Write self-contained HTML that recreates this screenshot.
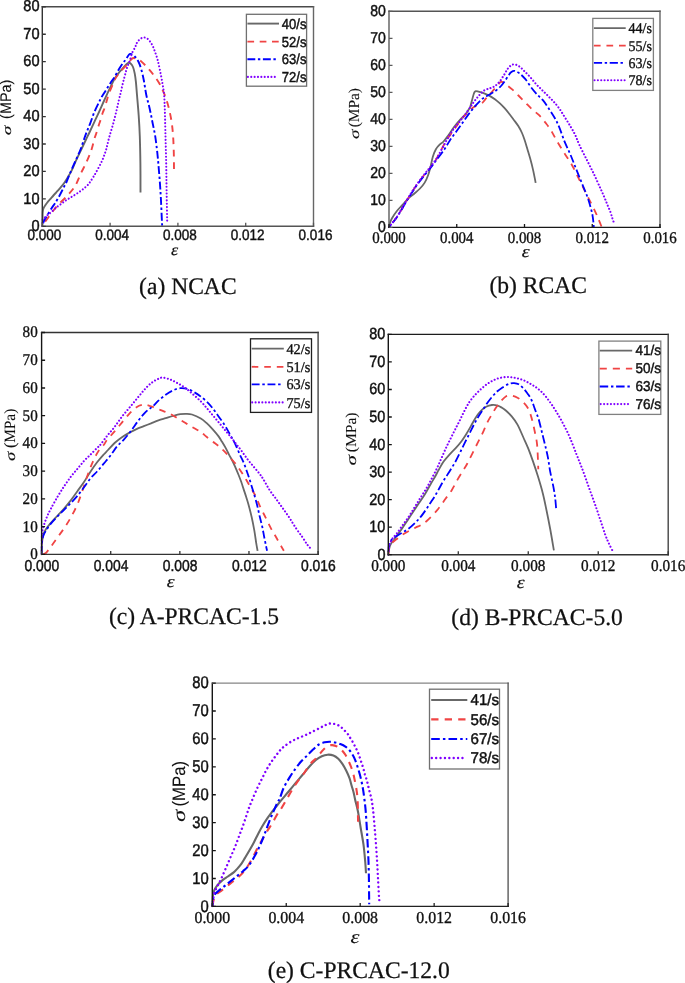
<!DOCTYPE html>
<html><head><meta charset="utf-8"><title>Stress-strain curves</title>
<style>html,body{margin:0;padding:0;background:#fff;}body{width:685px;height:983px;overflow:hidden;}svg{display:block;will-change:transform;}text{fill:#111;stroke:#111;stroke-width:0;text-rendering:geometricPrecision;}</style>
</head><body>
<svg width="685" height="983" viewBox="0 0 685 983"><clipPath id="clipa"><rect x="41.30" y="5.80" width="273.20" height="221.50"/></clipPath>
<path d="M42.30,226.30 C42.35,225.42 42.55,222.97 42.60,221.00 C42.65,219.03 42.55,216.25 42.60,214.50 C42.65,212.75 42.73,211.55 42.90,210.50 C43.07,209.45 43.20,209.07 43.60,208.20 C44.00,207.33 44.68,206.25 45.30,205.30 C45.92,204.35 46.48,203.52 47.30,202.50 C48.12,201.48 49.18,200.37 50.20,199.20 C51.22,198.03 52.38,196.65 53.40,195.50 C54.42,194.35 55.27,193.45 56.30,192.30 C57.33,191.15 58.58,189.77 59.60,188.60 C60.62,187.43 61.52,186.40 62.40,185.30 C63.28,184.20 64.15,183.08 64.90,182.00 C65.65,180.92 66.30,179.80 66.90,178.80 C67.50,177.80 67.87,177.07 68.50,176.00 C69.13,174.93 69.98,173.73 70.70,172.40 C71.42,171.07 72.08,169.58 72.80,168.00 C73.52,166.42 74.20,164.70 75.00,162.90 C75.80,161.10 76.72,159.10 77.60,157.20 C78.48,155.30 78.93,154.37 80.30,151.50 C81.67,148.63 84.20,143.33 85.80,140.00 C87.40,136.67 88.45,134.57 89.90,131.50 C91.35,128.43 92.95,124.90 94.50,121.60 C96.05,118.30 97.55,115.30 99.20,111.70 C100.85,108.10 102.97,103.17 104.40,100.00 C105.83,96.83 106.63,95.18 107.80,92.70 C108.97,90.22 110.32,87.33 111.40,85.10 C112.48,82.87 113.13,81.25 114.30,79.30 C115.47,77.35 117.13,75.07 118.40,73.40 C119.67,71.73 120.73,70.65 121.90,69.30 C123.07,67.95 124.33,66.37 125.40,65.30 C126.47,64.23 127.43,63.20 128.30,62.90 C129.17,62.60 129.82,62.82 130.60,63.50 C131.38,64.18 132.32,65.35 133.00,67.00 C133.68,68.65 134.22,70.92 134.70,73.40 C135.18,75.88 135.52,78.30 135.90,81.90 C136.28,85.50 136.53,89.38 137.00,95.00 C137.47,100.62 138.23,108.73 138.70,115.60 C139.17,122.47 139.52,128.18 139.80,136.20 C140.08,144.22 140.28,154.32 140.40,163.70 C140.52,173.08 140.48,187.70 140.50,192.50" fill="none" stroke="#686868" stroke-width="1.90" stroke-linejoin="round" clip-path="url(#clipa)"/>
<path d="M42.30,226.30 C42.77,225.53 44.05,223.25 45.10,221.70 C46.15,220.15 47.43,218.57 48.60,217.00 C49.77,215.43 50.62,214.22 52.10,212.30 C53.58,210.38 55.03,208.20 57.50,205.50 C59.97,202.80 63.98,199.32 66.90,196.10 C69.82,192.88 72.67,189.98 75.00,186.20 C77.33,182.42 78.95,177.48 80.90,173.40 C82.85,169.32 84.95,165.60 86.70,161.70 C88.45,157.80 90.10,153.87 91.40,150.00 C92.70,146.13 93.68,141.28 94.50,138.50 C95.32,135.72 95.62,135.43 96.30,133.30 C96.98,131.17 97.92,127.85 98.60,125.70 C99.28,123.55 99.72,122.55 100.40,120.40 C101.08,118.25 102.02,114.83 102.70,112.80 C103.38,110.77 103.82,110.23 104.50,108.20 C105.18,106.17 106.15,102.80 106.80,100.60 C107.45,98.40 107.55,97.38 108.40,95.00 C109.25,92.62 110.82,88.92 111.90,86.30 C112.98,83.68 113.82,81.35 114.90,79.30 C115.98,77.25 117.33,75.47 118.40,74.00 C119.47,72.53 120.03,71.87 121.30,70.50 C122.57,69.13 124.80,66.97 126.00,65.80 C127.20,64.63 127.67,64.55 128.50,63.50 C129.33,62.45 130.18,60.42 131.00,59.50 C131.82,58.58 132.57,58.17 133.40,58.00 C134.23,57.83 135.03,58.22 136.00,58.50 C136.97,58.78 137.70,58.62 139.20,59.70 C140.70,60.78 143.25,63.25 145.00,65.00 C146.75,66.75 148.13,68.35 149.70,70.20 C151.27,72.05 152.83,73.95 154.40,76.10 C155.97,78.25 157.73,80.77 159.10,83.10 C160.47,85.43 161.53,87.78 162.60,90.10 C163.67,92.42 164.43,93.90 165.50,97.00 C166.57,100.10 167.97,104.45 169.00,108.70 C170.03,112.95 171.02,117.92 171.70,122.50 C172.38,127.08 172.75,131.17 173.10,136.20 C173.45,141.23 173.65,147.20 173.80,152.70 C173.95,158.20 173.97,166.45 174.00,169.20" fill="none" stroke="#f04444" stroke-width="1.90" stroke-linejoin="round" stroke-dasharray="6.7 5.6" stroke-dashoffset="6.80" clip-path="url(#clipa)"/>
<path d="M42.30,226.30 C42.57,225.43 43.32,222.53 43.90,221.10 C44.48,219.67 44.52,219.85 45.80,217.70 C47.08,215.55 50.02,210.67 51.60,208.20 C53.18,205.73 53.97,205.02 55.30,202.90 C56.63,200.78 58.27,197.95 59.60,195.50 C60.93,193.05 62.15,190.45 63.30,188.20 C64.45,185.95 65.40,184.43 66.50,182.00 C67.60,179.57 68.48,176.93 69.90,173.60 C71.32,170.27 73.27,165.93 75.00,162.00 C76.73,158.07 78.75,153.92 80.30,150.00 C81.85,146.08 83.20,141.58 84.30,138.50 C85.40,135.42 85.88,134.12 86.90,131.50 C87.92,128.88 89.13,126.10 90.40,122.80 C91.67,119.50 93.03,115.20 94.50,111.70 C95.97,108.20 98.05,104.18 99.20,101.80 C100.35,99.42 100.35,99.22 101.40,97.40 C102.45,95.58 104.03,93.23 105.50,90.90 C106.97,88.57 108.63,85.82 110.20,83.40 C111.77,80.98 113.45,78.75 114.90,76.40 C116.35,74.05 117.55,71.55 118.90,69.30 C120.25,67.05 121.92,64.45 123.00,62.90 C124.08,61.35 124.45,61.32 125.40,60.00 C126.35,58.68 127.87,56.02 128.70,55.00 C129.53,53.98 129.43,53.70 130.40,53.90 C131.37,54.10 133.13,54.85 134.50,56.20 C135.87,57.55 137.43,59.67 138.60,62.00 C139.77,64.33 140.62,67.08 141.50,70.20 C142.38,73.32 143.10,76.57 143.90,80.70 C144.70,84.83 145.33,90.33 146.30,95.00 C147.27,99.67 148.67,104.12 149.70,108.70 C150.73,113.28 151.58,117.92 152.50,122.50 C153.42,127.08 154.40,131.17 155.20,136.20 C156.00,141.23 156.72,147.43 157.30,152.70 C157.88,157.97 158.25,162.53 158.70,167.80 C159.15,173.07 159.62,178.80 160.00,184.30 C160.38,189.80 160.70,195.08 161.00,200.80 C161.30,206.52 161.60,214.35 161.80,218.60 C162.00,222.85 162.13,225.02 162.20,226.30" fill="none" stroke="#0000ff" stroke-width="1.90" stroke-linejoin="round" stroke-dasharray="7.9 2.6 2.4 2.6" stroke-dashoffset="12.40" clip-path="url(#clipa)"/>
<path d="M42.30,226.30 C42.33,225.33 42.40,221.70 42.50,220.50 C42.60,219.30 42.40,219.70 42.90,219.10 C43.40,218.50 44.65,217.63 45.50,216.90 C46.35,216.17 47.08,215.47 48.00,214.70 C48.92,213.93 49.90,213.25 51.00,212.30 C52.10,211.35 53.45,210.02 54.60,209.00 C55.75,207.98 56.80,207.07 57.90,206.20 C59.00,205.33 60.23,204.50 61.20,203.80 C62.17,203.10 62.85,202.62 63.70,202.00 C64.55,201.38 65.38,200.72 66.30,200.10 C67.22,199.48 68.23,198.90 69.20,198.30 C70.17,197.70 71.13,197.10 72.10,196.50 C73.07,195.90 74.02,195.32 75.00,194.70 C75.98,194.08 77.08,193.42 78.00,192.80 C78.92,192.18 79.65,191.60 80.50,191.00 C81.35,190.40 82.25,189.87 83.10,189.20 C83.95,188.53 84.75,187.78 85.60,187.00 C86.45,186.22 87.43,185.37 88.20,184.50 C88.97,183.63 89.40,182.97 90.20,181.80 C91.00,180.63 92.02,179.10 93.00,177.50 C93.98,175.90 94.62,174.93 96.10,172.20 C97.58,169.47 100.25,164.80 101.90,161.10 C103.55,157.40 104.80,153.90 106.00,150.00 C107.20,146.10 107.90,142.08 109.10,137.70 C110.30,133.32 111.93,128.37 113.20,123.70 C114.47,119.03 115.75,113.65 116.70,109.70 C117.65,105.75 118.23,102.83 118.90,100.00 C119.57,97.17 120.12,95.18 120.70,92.70 C121.28,90.22 121.82,87.53 122.40,85.10 C122.98,82.67 123.62,80.33 124.20,78.10 C124.78,75.87 125.32,73.75 125.90,71.70 C126.48,69.65 127.02,67.75 127.70,65.80 C128.38,63.85 129.25,62.18 130.00,60.00 C130.75,57.82 131.32,54.87 132.20,52.70 C133.08,50.53 134.63,48.42 135.30,47.00 C135.97,45.58 135.78,45.12 136.20,44.20 C136.62,43.28 137.12,42.37 137.80,41.50 C138.48,40.63 139.38,39.68 140.30,39.00 C141.22,38.32 142.27,37.55 143.30,37.40 C144.33,37.25 145.57,37.67 146.50,38.10 C147.43,38.53 148.15,39.20 148.90,40.00 C149.65,40.80 150.37,41.90 151.00,42.90 C151.63,43.90 152.20,44.97 152.70,46.00 C153.20,47.03 153.58,48.03 154.00,49.10 C154.42,50.17 154.80,51.28 155.20,52.40 C155.60,53.52 156.02,54.62 156.40,55.80 C156.78,56.98 157.12,58.07 157.50,59.50 C157.88,60.93 158.13,61.83 158.70,64.40 C159.27,66.97 160.22,71.40 160.90,74.90 C161.58,78.40 162.27,82.10 162.80,85.40 C163.33,88.70 163.77,90.82 164.10,94.70 C164.43,98.58 164.57,101.78 164.80,108.70 C165.03,115.62 165.27,127.03 165.50,136.20 C165.73,145.37 166.02,154.53 166.20,163.70 C166.38,172.87 166.43,181.42 166.60,191.20 C166.77,200.98 167.10,217.20 167.20,222.40" fill="none" stroke="#8000ff" stroke-width="2.10" stroke-linecap="round" stroke-dasharray="0.01 3.35" clip-path="url(#clipa)"/>
<path d="M42.30,6.10V227.00" stroke="#333" stroke-width="1.4" fill="none"/>
<path d="M41.60,6.80H314.20" stroke="#4a4a4a" stroke-width="1.4" fill="none"/>
<path d="M313.50,6.10V227.00" stroke="#666" stroke-width="1.4" fill="none"/>
<path d="M41.60,226.30H314.20" stroke="#555" stroke-width="1.4" fill="none"/>
<path d="M42.30,226.30h3.5 M42.30,198.86h3.5 M42.30,171.43h3.5 M42.30,143.99h3.5 M42.30,116.55h3.5 M42.30,89.11h3.5 M42.30,61.68h3.5 M42.30,34.24h3.5 M42.30,6.80h3.5 " stroke="#333" stroke-width="1.3" fill="none"/>
<path d="M42.30,226.30v-3.5 M110.10,226.30v-3.5 M177.90,226.30v-3.5 M245.70,226.30v-3.5 M313.50,226.30v-3.5 " stroke="#555" stroke-width="1.3" fill="none"/>
<text transform="translate(39.50,230.94) scale(0.918,1)" text-anchor="end" style='font-family:"Liberation Sans", sans-serif;font-size:15.90px;stroke-width:0.45px;' >0</text>
<text transform="translate(39.50,203.50) scale(0.918,1)" text-anchor="end" style='font-family:"Liberation Sans", sans-serif;font-size:15.90px;stroke-width:0.45px;' >10</text>
<text transform="translate(39.50,176.06) scale(0.918,1)" text-anchor="end" style='font-family:"Liberation Sans", sans-serif;font-size:15.90px;stroke-width:0.45px;' >20</text>
<text transform="translate(39.50,148.63) scale(0.918,1)" text-anchor="end" style='font-family:"Liberation Sans", sans-serif;font-size:15.90px;stroke-width:0.45px;' >30</text>
<text transform="translate(39.50,121.19) scale(0.918,1)" text-anchor="end" style='font-family:"Liberation Sans", sans-serif;font-size:15.90px;stroke-width:0.45px;' >40</text>
<text transform="translate(39.50,93.75) scale(0.918,1)" text-anchor="end" style='font-family:"Liberation Sans", sans-serif;font-size:15.90px;stroke-width:0.45px;' >50</text>
<text transform="translate(39.50,66.32) scale(0.918,1)" text-anchor="end" style='font-family:"Liberation Sans", sans-serif;font-size:15.90px;stroke-width:0.45px;' >60</text>
<text transform="translate(39.50,38.88) scale(0.918,1)" text-anchor="end" style='font-family:"Liberation Sans", sans-serif;font-size:15.90px;stroke-width:0.45px;' >70</text>
<text transform="translate(39.50,11.44) scale(0.918,1)" text-anchor="end" style='font-family:"Liberation Sans", sans-serif;font-size:15.90px;stroke-width:0.45px;' >80</text>
<text transform="translate(44.30,239.75) scale(0.890,1)" text-anchor="middle" style='font-family:"Liberation Sans", sans-serif;font-size:15.20px;stroke-width:0.45px;' >0.000</text>
<text transform="translate(112.10,239.75) scale(0.890,1)" text-anchor="middle" style='font-family:"Liberation Sans", sans-serif;font-size:15.20px;stroke-width:0.45px;' >0.004</text>
<text transform="translate(179.90,239.75) scale(0.890,1)" text-anchor="middle" style='font-family:"Liberation Sans", sans-serif;font-size:15.20px;stroke-width:0.45px;' >0.008</text>
<text transform="translate(247.70,239.75) scale(0.890,1)" text-anchor="middle" style='font-family:"Liberation Sans", sans-serif;font-size:15.20px;stroke-width:0.45px;' >0.012</text>
<text transform="translate(315.50,239.75) scale(0.890,1)" text-anchor="middle" style='font-family:"Liberation Sans", sans-serif;font-size:15.20px;stroke-width:0.45px;' >0.016</text>
<rect x="246.40" y="14.30" width="60.20" height="71.90" fill="#fff" stroke="#707070" stroke-width="1.3"/>
<path d="M247.40,23.60H279.00" fill="none" stroke="#686868" stroke-width="1.90" stroke-linejoin="round"/>
<text transform="translate(281.84,28.56) scale(0.907,1)" text-anchor="start" style='font-family:"Liberation Sans", sans-serif;font-size:14.40px;stroke-width:0.45px;' >40/s</text>
<path d="M247.40,41.60H279.00" fill="none" stroke="#f04444" stroke-width="1.90" stroke-linejoin="round" stroke-dasharray="6.7 5.6"/>
<text transform="translate(281.84,46.56) scale(0.907,1)" text-anchor="start" style='font-family:"Liberation Sans", sans-serif;font-size:14.40px;stroke-width:0.45px;' >52/s</text>
<path d="M247.40,59.30H276.00" fill="none" stroke="#0000ff" stroke-width="1.90" stroke-linejoin="round" stroke-dasharray="7.9 2.6 2.4 2.6"/>
<text transform="translate(281.84,64.26) scale(0.907,1)" text-anchor="start" style='font-family:"Liberation Sans", sans-serif;font-size:14.40px;stroke-width:0.45px;' >63/s</text>
<path d="M247.90,76.90H278.05" fill="none" stroke="#8000ff" stroke-width="2.10" stroke-linecap="round" stroke-dasharray="0.01 3.35"/>
<text transform="translate(281.84,81.86) scale(0.907,1)" text-anchor="start" style='font-family:"Liberation Sans", sans-serif;font-size:14.40px;stroke-width:0.45px;' >72/s</text>
<text transform="translate(10.77,135.20) rotate(-90) scale(1.540,1)" style='font-family:&quot;Liberation Serif&quot;,serif;font-style:italic;font-size:12.70px;stroke-width:0.10px'>&#963;</text>
<text transform="translate(10.60,118.90) rotate(-90) scale(1,1.070)" style='font-family:"Liberation Sans", sans-serif;font-size:14.40px;stroke-width:0.10px'>(MPa)</text>
<text transform="translate(174.70,254.80) scale(1.150,1)" text-anchor="middle" style='font-family:"Liberation Serif", serif;font-size:15.80px;font-style:italic;stroke-width:0.15px;' >&#949;</text>
<text transform="translate(187.85,293.60) scale(0.990,1)" text-anchor="middle" style='font-family:"Liberation Serif", serif;font-size:23.80px;stroke-width:0.25px;' >(a) NCAC</text>
<clipPath id="clipb"><rect x="388.00" y="10.30" width="273.00" height="218.10"/></clipPath>
<path d="M389.00,227.10 C389.20,226.33 389.70,223.98 390.20,222.50 C390.70,221.02 390.92,220.08 392.00,218.20 C393.08,216.32 394.95,213.43 396.70,211.20 C398.45,208.97 400.55,206.93 402.50,204.80 C404.45,202.67 406.45,200.25 408.40,198.40 C410.35,196.55 412.27,195.35 414.20,193.70 C416.13,192.05 418.25,190.35 420.00,188.50 C421.75,186.65 423.33,184.85 424.70,182.60 C426.07,180.35 427.23,177.62 428.20,175.00 C429.17,172.38 429.72,170.00 430.50,166.90 C431.28,163.80 432.00,159.35 432.90,156.40 C433.80,153.45 434.72,151.22 435.90,149.20 C437.08,147.18 438.80,145.50 440.00,144.30 C441.20,143.10 441.70,143.48 443.10,142.00 C444.50,140.52 446.63,137.82 448.40,135.40 C450.17,132.98 451.73,130.13 453.70,127.50 C455.67,124.87 458.20,121.83 460.20,119.60 C462.20,117.37 464.23,115.87 465.70,114.10 C467.17,112.33 468.23,110.25 469.00,109.00 C469.77,107.75 469.78,108.12 470.30,106.60 C470.82,105.08 471.50,102.08 472.10,99.90 C472.70,97.72 473.37,94.93 473.90,93.50 C474.43,92.07 474.53,91.60 475.30,91.30 C476.07,91.00 477.13,91.40 478.50,91.70 C479.87,92.00 481.72,92.45 483.50,93.10 C485.28,93.75 487.30,94.58 489.20,95.60 C491.10,96.62 493.12,97.90 494.90,99.20 C496.68,100.50 498.28,101.90 499.90,103.40 C501.52,104.90 503.05,106.48 504.60,108.20 C506.15,109.92 507.68,111.78 509.20,113.70 C510.72,115.62 512.18,117.63 513.70,119.70 C515.22,121.77 516.92,123.88 518.30,126.10 C519.68,128.32 520.93,130.63 522.00,133.00 C523.07,135.37 523.78,137.55 524.70,140.30 C525.62,143.05 526.58,146.45 527.50,149.50 C528.42,152.55 529.28,155.25 530.20,158.60 C531.12,161.95 532.08,165.55 533.00,169.60 C533.92,173.65 535.25,180.68 535.70,182.90" fill="none" stroke="#686868" stroke-width="1.80" stroke-linejoin="round" clip-path="url(#clipb)"/>
<path d="M389.00,227.10 C390.28,225.47 394.25,220.87 396.70,217.30 C399.15,213.73 401.37,209.58 403.70,205.70 C406.03,201.82 408.37,197.70 410.70,194.00 C413.03,190.30 415.37,186.75 417.70,183.50 C420.03,180.25 422.57,177.17 424.70,174.50 C426.83,171.83 428.55,170.08 430.50,167.50 C432.45,164.92 434.73,161.75 436.40,159.00 C438.07,156.25 438.72,154.27 440.50,151.00 C442.28,147.73 444.90,142.87 447.10,139.40 C449.30,135.93 451.52,133.27 453.70,130.20 C455.88,127.13 457.80,124.07 460.20,121.00 C462.60,117.93 465.68,114.22 468.10,111.80 C470.52,109.38 472.28,108.03 474.70,106.50 C477.12,104.97 480.42,104.35 482.60,102.60 C484.78,100.85 486.27,97.77 487.80,96.00 C489.33,94.23 490.27,93.67 491.80,92.00 C493.33,90.33 495.55,87.67 497.00,86.00 C498.45,84.33 499.50,82.62 500.50,82.00 C501.50,81.38 501.97,81.80 503.00,82.30 C504.03,82.80 505.12,83.77 506.70,85.00 C508.28,86.23 510.55,87.95 512.50,89.70 C514.45,91.45 516.25,93.35 518.40,95.50 C520.55,97.65 523.07,100.25 525.40,102.60 C527.73,104.95 530.07,107.47 532.40,109.60 C534.73,111.73 537.27,113.27 539.40,115.40 C541.53,117.53 543.30,119.97 545.20,122.40 C547.10,124.83 548.78,126.78 550.80,130.00 C552.82,133.22 555.00,137.80 557.30,141.70 C559.60,145.60 562.17,149.52 564.60,153.40 C567.03,157.28 569.70,161.12 571.90,165.00 C574.10,168.88 575.85,172.80 577.80,176.70 C579.75,180.60 581.65,184.50 583.60,188.40 C585.55,192.30 587.55,196.20 589.50,200.10 C591.45,204.00 593.70,208.38 595.30,211.80 C596.90,215.22 598.03,218.05 599.10,220.60 C600.17,223.15 601.27,226.02 601.70,227.10" fill="none" stroke="#f04444" stroke-width="1.80" stroke-linejoin="round" stroke-dasharray="6.7 5.85" stroke-dashoffset="6.50" clip-path="url(#clipb)"/>
<path d="M389.00,227.10 C390.28,225.52 394.25,221.12 396.70,217.60 C399.15,214.08 401.37,209.85 403.70,206.00 C406.03,202.15 408.37,198.17 410.70,194.50 C413.03,190.83 415.37,187.25 417.70,184.00 C420.03,180.75 422.57,177.67 424.70,175.00 C426.83,172.33 428.55,170.50 430.50,168.00 C432.45,165.50 434.07,163.13 436.40,160.00 C438.73,156.87 442.28,152.42 444.50,149.20 C446.72,145.98 447.73,143.65 449.70,140.70 C451.67,137.75 454.10,134.57 456.30,131.50 C458.50,128.43 460.72,125.37 462.90,122.30 C465.08,119.23 467.22,115.95 469.40,113.10 C471.58,110.25 473.80,107.62 476.00,105.20 C478.20,102.78 480.42,100.35 482.60,98.60 C484.78,96.85 486.92,96.02 489.10,94.70 C491.28,93.38 493.72,92.15 495.70,90.70 C497.68,89.25 499.47,87.62 501.00,86.00 C502.53,84.38 503.60,82.83 504.90,81.00 C506.20,79.17 507.78,76.45 508.80,75.00 C509.82,73.55 510.08,73.00 511.00,72.30 C511.92,71.60 512.88,70.62 514.30,70.80 C515.72,70.98 517.65,72.00 519.50,73.40 C521.35,74.80 523.45,76.87 525.40,79.20 C527.35,81.53 529.27,84.87 531.20,87.40 C533.13,89.93 535.05,92.27 537.00,94.40 C538.95,96.53 540.95,97.87 542.90,100.20 C544.85,102.53 546.75,105.48 548.70,108.40 C550.65,111.32 552.85,114.58 554.60,117.70 C556.35,120.82 557.53,123.10 559.20,127.10 C560.87,131.10 562.72,137.08 564.60,141.70 C566.48,146.32 568.55,150.18 570.50,154.80 C572.45,159.42 574.35,164.53 576.30,169.40 C578.25,174.27 580.25,179.13 582.20,184.00 C584.15,188.87 586.30,193.48 588.00,198.60 C589.70,203.72 591.43,209.95 592.40,214.70 C593.37,219.45 593.57,225.03 593.80,227.10" fill="none" stroke="#0000ff" stroke-width="1.80" stroke-linejoin="round" stroke-dasharray="8.2 2.6 2.4 2.6" stroke-dashoffset="10.40" clip-path="url(#clipb)"/>
<path d="M389.00,227.10 C390.28,225.43 394.25,220.72 396.70,217.10 C399.15,213.48 401.37,209.30 403.70,205.40 C406.03,201.50 408.37,197.40 410.70,193.70 C413.03,190.00 415.37,186.50 417.70,183.20 C420.03,179.90 422.57,176.62 424.70,173.90 C426.83,171.18 428.55,169.43 430.50,166.90 C432.45,164.37 434.52,161.65 436.40,158.70 C438.28,155.75 440.02,152.42 441.80,149.20 C443.58,145.98 445.12,142.80 447.10,139.40 C449.08,136.00 451.52,131.87 453.70,128.80 C455.88,125.73 457.80,124.07 460.20,121.00 C462.60,117.93 465.90,113.47 468.10,110.40 C470.30,107.33 471.65,105.00 473.40,102.60 C475.15,100.20 476.85,97.98 478.60,96.00 C480.35,94.02 481.93,92.02 483.90,90.70 C485.87,89.38 488.55,88.88 490.40,88.10 C492.25,87.32 493.45,87.10 495.00,86.00 C496.55,84.90 498.15,83.42 499.70,81.50 C501.25,79.58 502.95,76.63 504.30,74.50 C505.65,72.37 506.43,70.35 507.80,68.70 C509.17,67.05 510.73,65.08 512.50,64.60 C514.27,64.12 516.45,64.73 518.40,65.80 C520.35,66.87 522.27,69.15 524.20,71.00 C526.13,72.85 528.05,74.75 530.00,76.90 C531.95,79.05 533.95,81.77 535.90,83.90 C537.85,86.03 539.75,87.77 541.70,89.70 C543.65,91.63 545.65,93.55 547.60,95.50 C549.55,97.45 551.47,99.25 553.40,101.40 C555.33,103.55 557.25,105.68 559.20,108.40 C561.15,111.12 563.15,114.58 565.10,117.70 C567.05,120.82 569.17,124.13 570.90,127.10 C572.63,130.07 574.12,132.58 575.50,135.50 C576.88,138.42 577.37,140.65 579.20,144.60 C581.03,148.55 584.07,154.33 586.50,159.20 C588.93,164.07 591.60,169.20 593.80,173.80 C596.00,178.40 598.23,183.57 599.70,186.80 C601.17,190.03 601.68,191.12 602.60,193.20 C603.52,195.28 604.33,197.22 605.20,199.30 C606.07,201.38 606.92,203.55 607.80,205.70 C608.68,207.85 609.72,210.05 610.50,212.20 C611.28,214.35 611.97,216.95 612.50,218.60 C613.03,220.25 613.50,221.52 613.70,222.10" fill="none" stroke="#8000ff" stroke-width="2.10" stroke-linecap="round" stroke-dasharray="0.01 3.33" clip-path="url(#clipb)"/>
<path d="M389.00,10.60V228.10" stroke="#5c5c5c" stroke-width="1.4" fill="none"/>
<path d="M388.30,11.30H660.70" stroke="#555" stroke-width="1.4" fill="none"/>
<path d="M660.00,10.60V228.10" stroke="#666" stroke-width="1.4" fill="none"/>
<path d="M388.30,227.40H660.70" stroke="#181818" stroke-width="1.4" fill="none"/>
<path d="M389.00,227.40h3.5 M389.00,200.39h3.5 M389.00,173.38h3.5 M389.00,146.36h3.5 M389.00,119.35h3.5 M389.00,92.34h3.5 M389.00,65.33h3.5 M389.00,38.31h3.5 M389.00,11.30h3.5 " stroke="#5c5c5c" stroke-width="1.3" fill="none"/>
<path d="M389.00,227.40v-3.5 M456.75,227.40v-3.5 M524.50,227.40v-3.5 M592.25,227.40v-3.5 M660.00,227.40v-3.5 " stroke="#181818" stroke-width="1.3" fill="none"/>
<text transform="translate(385.80,232.20) scale(0.890,1)" text-anchor="end" style='font-family:"Liberation Sans", sans-serif;font-size:15.80px;stroke-width:0.45px;' >0</text>
<text transform="translate(385.80,205.19) scale(0.890,1)" text-anchor="end" style='font-family:"Liberation Sans", sans-serif;font-size:15.80px;stroke-width:0.45px;' >10</text>
<text transform="translate(385.80,178.18) scale(0.890,1)" text-anchor="end" style='font-family:"Liberation Sans", sans-serif;font-size:15.80px;stroke-width:0.45px;' >20</text>
<text transform="translate(385.80,151.16) scale(0.890,1)" text-anchor="end" style='font-family:"Liberation Sans", sans-serif;font-size:15.80px;stroke-width:0.45px;' >30</text>
<text transform="translate(385.80,124.15) scale(0.890,1)" text-anchor="end" style='font-family:"Liberation Sans", sans-serif;font-size:15.80px;stroke-width:0.45px;' >40</text>
<text transform="translate(385.80,97.14) scale(0.890,1)" text-anchor="end" style='font-family:"Liberation Sans", sans-serif;font-size:15.80px;stroke-width:0.45px;' >50</text>
<text transform="translate(385.80,70.13) scale(0.890,1)" text-anchor="end" style='font-family:"Liberation Sans", sans-serif;font-size:15.80px;stroke-width:0.45px;' >60</text>
<text transform="translate(385.80,43.11) scale(0.890,1)" text-anchor="end" style='font-family:"Liberation Sans", sans-serif;font-size:15.80px;stroke-width:0.45px;' >70</text>
<text transform="translate(385.80,16.10) scale(0.890,1)" text-anchor="end" style='font-family:"Liberation Sans", sans-serif;font-size:15.80px;stroke-width:0.45px;' >80</text>
<text transform="translate(389.00,243.40) scale(0.916,1)" text-anchor="middle" style='font-family:"Liberation Serif", serif;font-size:16.30px;stroke-width:0.35px;' >0.000</text>
<text transform="translate(456.75,243.40) scale(0.916,1)" text-anchor="middle" style='font-family:"Liberation Serif", serif;font-size:16.30px;stroke-width:0.35px;' >0.004</text>
<text transform="translate(524.50,243.40) scale(0.916,1)" text-anchor="middle" style='font-family:"Liberation Serif", serif;font-size:16.30px;stroke-width:0.35px;' >0.008</text>
<text transform="translate(592.25,243.40) scale(0.916,1)" text-anchor="middle" style='font-family:"Liberation Serif", serif;font-size:16.30px;stroke-width:0.35px;' >0.012</text>
<text transform="translate(660.00,243.40) scale(0.916,1)" text-anchor="middle" style='font-family:"Liberation Serif", serif;font-size:16.30px;stroke-width:0.35px;' >0.016</text>
<rect x="592.80" y="18.40" width="60.60" height="72.00" fill="#fff" stroke="#808080" stroke-width="1.3"/>
<path d="M593.90,28.20H625.70" fill="none" stroke="#686868" stroke-width="1.80" stroke-linejoin="round"/>
<text transform="translate(628.50,33.35) scale(0.946,1)" text-anchor="start" style='font-family:"Liberation Serif", serif;font-size:14.80px;stroke-width:0.35px;' >44/s</text>
<path d="M593.90,45.60H625.70" fill="none" stroke="#f04444" stroke-width="1.80" stroke-linejoin="round" stroke-dasharray="6.7 5.85"/>
<text transform="translate(628.50,50.75) scale(0.946,1)" text-anchor="start" style='font-family:"Liberation Serif", serif;font-size:14.80px;stroke-width:0.35px;' >55/s</text>
<path d="M593.90,62.90H623.10" fill="none" stroke="#0000ff" stroke-width="1.80" stroke-linejoin="round" stroke-dasharray="8.2 2.6 2.4 2.6"/>
<text transform="translate(628.50,68.05) scale(0.946,1)" text-anchor="start" style='font-family:"Liberation Serif", serif;font-size:14.80px;stroke-width:0.35px;' >63/s</text>
<path d="M594.55,80.30H624.65" fill="none" stroke="#8000ff" stroke-width="2.10" stroke-linecap="round" stroke-dasharray="0.01 3.33"/>
<text transform="translate(628.50,85.45) scale(0.946,1)" text-anchor="start" style='font-family:"Liberation Serif", serif;font-size:14.80px;stroke-width:0.35px;' >78/s</text>
<text transform="translate(358.60,138.90) rotate(-90) scale(1.370,1)" style='font-family:&quot;Liberation Serif&quot;,serif;font-style:italic;font-size:14.00px;stroke-width:0.10px'>&#963;</text>
<text transform="translate(358.70,127.30) rotate(-90) scale(1,1.000)" style='font-family:"Liberation Serif", serif;font-size:15.30px;stroke-width:0.10px'>(MPa)</text>
<text transform="translate(525.60,256.90) scale(1.180,1)" text-anchor="middle" style='font-family:"Liberation Serif", serif;font-size:16.90px;font-style:italic;stroke-width:0.15px;' >&#949;</text>
<text transform="translate(538.20,293.40) scale(0.990,1)" text-anchor="middle" style='font-family:"Liberation Serif", serif;font-size:23.80px;stroke-width:0.25px;' >(b) RCAC</text>
<clipPath id="clipc"><rect x="40.60" y="331.50" width="278.50" height="223.90"/></clipPath>
<path d="M41.50,554.00 C41.57,552.30 41.60,547.03 41.90,543.80 C42.20,540.57 42.63,537.02 43.30,534.60 C43.97,532.18 44.82,531.05 45.90,529.30 C46.98,527.55 47.83,526.40 49.80,524.10 C51.77,521.80 55.28,518.13 57.70,515.50 C60.12,512.87 62.12,510.82 64.30,508.30 C66.48,505.78 68.62,503.25 70.80,500.40 C72.98,497.55 75.20,494.27 77.40,491.20 C79.60,488.13 81.80,485.28 84.00,482.00 C86.20,478.72 88.42,474.78 90.60,471.50 C92.78,468.22 94.92,465.13 97.10,462.30 C99.28,459.47 101.88,456.55 103.70,454.50 C105.52,452.45 106.18,451.92 108.00,450.00 C109.82,448.08 112.28,445.13 114.60,443.00 C116.92,440.87 119.47,438.90 121.90,437.20 C124.33,435.50 126.77,434.15 129.20,432.80 C131.63,431.45 134.07,430.20 136.50,429.10 C138.93,428.00 141.37,427.17 143.80,426.20 C146.23,425.23 148.67,424.27 151.10,423.30 C153.53,422.33 155.97,421.25 158.40,420.40 C160.83,419.55 163.27,418.93 165.70,418.20 C168.13,417.47 170.57,416.67 173.00,416.00 C175.43,415.33 178.12,414.57 180.30,414.20 C182.48,413.83 184.15,413.75 186.10,413.80 C188.05,413.85 189.55,413.72 192.00,414.50 C194.45,415.28 198.35,417.05 200.80,418.50 C203.25,419.95 204.75,421.43 206.70,423.20 C208.65,424.97 210.55,426.95 212.50,429.10 C214.45,431.25 216.82,433.98 218.40,436.10 C219.98,438.22 220.82,439.88 222.00,441.80 C223.18,443.72 224.33,445.47 225.50,447.60 C226.67,449.73 227.83,452.37 229.00,454.60 C230.17,456.83 231.43,458.87 232.50,461.00 C233.57,463.13 234.42,465.15 235.40,467.40 C236.38,469.65 237.42,472.07 238.40,474.50 C239.38,476.93 240.43,479.57 241.30,482.00 C242.17,484.43 242.78,486.60 243.60,489.10 C244.42,491.60 245.40,494.48 246.20,497.00 C247.00,499.52 247.48,500.82 248.40,504.20 C249.32,507.58 250.72,512.93 251.70,517.30 C252.68,521.67 253.53,526.02 254.30,530.40 C255.07,534.78 255.75,540.20 256.30,543.60 C256.85,547.00 257.38,549.60 257.60,550.80" fill="none" stroke="#686868" stroke-width="1.80" stroke-linejoin="round" clip-path="url(#clipc)"/>
<path d="M43.30,554.00 C43.73,553.83 44.60,554.27 45.90,553.00 C47.20,551.73 49.13,549.03 51.10,546.40 C53.07,543.77 55.50,540.27 57.70,537.20 C59.90,534.13 62.12,531.28 64.30,528.00 C66.48,524.72 68.62,521.43 70.80,517.50 C72.98,513.57 75.42,509.00 77.40,504.40 C79.38,499.80 80.95,494.93 82.70,489.90 C84.45,484.87 86.15,479.02 87.90,474.20 C89.65,469.38 91.43,464.87 93.20,461.00 C94.97,457.13 96.75,453.67 98.50,451.00 C100.25,448.33 102.23,446.92 103.70,445.00 C105.17,443.08 105.48,441.78 107.30,439.50 C109.12,437.22 112.17,434.12 114.60,431.30 C117.03,428.48 119.47,425.52 121.90,422.60 C124.33,419.68 126.77,416.37 129.20,413.80 C131.63,411.23 134.18,408.72 136.50,407.20 C138.82,405.68 141.15,405.02 143.10,404.70 C145.05,404.38 146.13,404.75 148.20,405.30 C150.27,405.85 153.07,407.07 155.50,408.00 C157.93,408.93 160.37,409.93 162.80,410.90 C165.23,411.87 167.67,412.58 170.10,413.80 C172.53,415.02 174.97,416.73 177.40,418.20 C179.83,419.67 182.27,421.15 184.70,422.60 C187.13,424.05 189.50,425.43 192.00,426.90 C194.50,428.37 197.65,430.07 199.70,431.40 C201.75,432.73 202.35,433.35 204.30,434.90 C206.25,436.45 209.05,438.88 211.40,440.70 C213.75,442.52 216.48,444.27 218.40,445.80 C220.32,447.33 220.78,447.75 222.90,449.90 C225.02,452.05 229.00,456.42 231.10,458.70 C233.20,460.98 234.10,461.85 235.50,463.60 C236.90,465.35 238.22,467.33 239.50,469.20 C240.78,471.07 242.03,472.95 243.20,474.80 C244.37,476.65 245.42,478.47 246.50,480.30 C247.58,482.13 248.28,483.35 249.70,485.80 C251.12,488.25 253.25,491.50 255.00,495.00 C256.75,498.50 258.45,503.08 260.20,506.80 C261.95,510.52 263.75,513.80 265.50,517.30 C267.25,520.80 268.95,524.52 270.70,527.80 C272.45,531.08 274.25,533.93 276.00,537.00 C277.75,540.07 279.88,543.90 281.20,546.20 C282.52,548.50 283.45,550.03 283.90,550.80" fill="none" stroke="#f04444" stroke-width="1.80" stroke-linejoin="round" stroke-dasharray="6.6 5.95" clip-path="url(#clipc)"/>
<path d="M41.50,554.00 C41.57,552.08 41.60,545.52 41.90,542.50 C42.20,539.48 42.63,537.87 43.30,535.90 C43.97,533.93 44.60,532.78 45.90,530.70 C47.20,528.62 49.13,525.82 51.10,523.40 C53.07,520.98 55.50,518.50 57.70,516.20 C59.90,513.90 62.12,511.78 64.30,509.60 C66.48,507.42 68.62,505.40 70.80,503.10 C72.98,500.80 75.20,498.43 77.40,495.80 C79.60,493.17 81.80,490.25 84.00,487.30 C86.20,484.35 88.42,480.73 90.60,478.10 C92.78,475.47 94.92,473.90 97.10,471.50 C99.28,469.10 101.50,466.32 103.70,463.70 C105.90,461.08 108.12,458.65 110.30,455.80 C112.48,452.95 114.62,449.22 116.80,446.60 C118.98,443.98 121.08,442.65 123.40,440.10 C125.72,437.55 128.27,434.47 130.70,431.30 C133.13,428.13 135.57,424.27 138.00,421.10 C140.43,417.93 142.87,414.73 145.30,412.30 C147.73,409.87 150.42,408.43 152.60,406.50 C154.78,404.57 156.22,402.65 158.40,400.70 C160.58,398.75 163.27,396.52 165.70,394.80 C168.13,393.08 170.57,391.50 173.00,390.40 C175.43,389.30 177.87,388.43 180.30,388.20 C182.73,387.97 185.17,388.27 187.60,389.00 C190.03,389.73 192.83,391.43 194.90,392.60 C196.97,393.77 198.03,394.50 200.00,396.00 C201.97,397.50 204.62,399.60 206.70,401.60 C208.78,403.60 210.55,405.57 212.50,408.00 C214.45,410.43 216.45,413.47 218.40,416.20 C220.35,418.93 222.45,421.68 224.20,424.40 C225.95,427.12 227.42,429.90 228.90,432.50 C230.38,435.10 231.82,437.58 233.10,440.00 C234.38,442.42 235.43,444.47 236.60,447.00 C237.77,449.53 238.93,452.62 240.10,455.20 C241.27,457.78 242.53,459.97 243.60,462.50 C244.67,465.03 245.57,467.78 246.50,470.40 C247.43,473.02 248.32,475.48 249.20,478.20 C250.08,480.92 251.02,484.15 251.80,486.70 C252.58,489.25 253.05,490.58 253.90,493.50 C254.75,496.42 255.95,500.45 256.90,504.20 C257.85,507.95 258.72,512.28 259.60,516.00 C260.48,519.72 261.43,523.00 262.20,526.50 C262.97,530.00 263.55,533.72 264.20,537.00 C264.85,540.28 265.62,543.90 266.10,546.20 C266.58,548.50 266.93,550.03 267.10,550.80" fill="none" stroke="#0000ff" stroke-width="1.80" stroke-linejoin="round" stroke-dasharray="7.9 2.7 2.5 2.7" clip-path="url(#clipc)"/>
<path d="M41.50,554.00 C41.57,550.77 41.50,539.37 41.90,534.60 C42.30,529.83 43.02,528.47 43.90,525.40 C44.78,522.33 46.00,519.05 47.20,516.20 C48.40,513.35 49.35,511.58 51.10,508.30 C52.85,505.02 55.50,500.22 57.70,496.50 C59.90,492.78 62.12,489.28 64.30,486.00 C66.48,482.72 68.62,479.65 70.80,476.80 C72.98,473.95 75.20,471.53 77.40,468.90 C79.60,466.27 81.80,463.40 84.00,461.00 C86.20,458.60 88.42,456.68 90.60,454.50 C92.78,452.32 95.53,449.45 97.10,447.90 C98.67,446.35 98.30,447.23 100.00,445.20 C101.70,443.17 104.87,438.75 107.30,435.70 C109.73,432.65 112.17,430.07 114.60,426.90 C117.03,423.73 119.47,419.85 121.90,416.70 C124.33,413.55 126.77,410.92 129.20,408.00 C131.63,405.08 134.07,402.13 136.50,399.20 C138.93,396.27 141.37,393.08 143.80,390.40 C146.23,387.72 148.67,385.03 151.10,383.10 C153.53,381.17 156.45,379.72 158.40,378.80 C160.35,377.88 160.85,377.48 162.80,377.60 C164.75,377.72 167.67,378.58 170.10,379.50 C172.53,380.42 174.97,381.77 177.40,383.10 C179.83,384.43 182.27,385.78 184.70,387.50 C187.13,389.22 189.38,391.15 192.00,393.40 C194.62,395.65 197.95,398.57 200.40,401.00 C202.85,403.43 204.68,405.67 206.70,408.00 C208.72,410.33 210.55,412.67 212.50,415.00 C214.45,417.33 216.45,419.65 218.40,422.00 C220.35,424.35 222.27,426.75 224.20,429.10 C226.13,431.45 228.05,433.68 230.00,436.10 C231.95,438.52 233.95,441.08 235.90,443.60 C237.85,446.12 239.75,448.57 241.70,451.20 C243.65,453.83 245.65,456.87 247.60,459.40 C249.55,461.93 251.47,464.07 253.40,466.40 C255.33,468.73 257.55,471.27 259.20,473.40 C260.85,475.53 261.60,476.48 263.30,479.20 C265.00,481.92 267.28,486.42 269.40,489.70 C271.52,492.98 273.80,495.83 276.00,498.90 C278.20,501.97 280.42,505.03 282.60,508.10 C284.78,511.17 286.92,514.02 289.10,517.30 C291.28,520.58 293.50,524.52 295.70,527.80 C297.90,531.08 300.33,534.15 302.30,537.00 C304.27,539.85 305.87,542.72 307.50,544.90 C309.13,547.08 311.33,549.23 312.10,550.10" fill="none" stroke="#8000ff" stroke-width="2.10" stroke-linecap="round" stroke-dasharray="0.01 3.37" clip-path="url(#clipc)"/>
<path d="M41.60,331.80V555.10" stroke="#151515" stroke-width="1.4" fill="none"/>
<path d="M40.90,332.50H318.80" stroke="#333" stroke-width="1.4" fill="none"/>
<path d="M318.10,331.80V555.10" stroke="#444" stroke-width="1.4" fill="none"/>
<path d="M40.90,554.40H318.80" stroke="#333" stroke-width="1.4" fill="none"/>
<path d="M41.60,554.40h3.5 M41.60,526.66h3.5 M41.60,498.92h3.5 M41.60,471.19h3.5 M41.60,443.45h3.5 M41.60,415.71h3.5 M41.60,387.98h3.5 M41.60,360.24h3.5 M41.60,332.50h3.5 " stroke="#151515" stroke-width="1.3" fill="none"/>
<path d="M41.60,554.40v-3.5 M110.72,554.40v-3.5 M179.85,554.40v-3.5 M248.97,554.40v-3.5 M318.10,554.40v-3.5 " stroke="#333" stroke-width="1.3" fill="none"/>
<text transform="translate(37.70,559.30) scale(0.927,1)" text-anchor="end" style='font-family:"Liberation Serif", serif;font-size:16.30px;stroke-width:0.35px;' >0</text>
<text transform="translate(37.70,531.56) scale(0.927,1)" text-anchor="end" style='font-family:"Liberation Serif", serif;font-size:16.30px;stroke-width:0.35px;' >10</text>
<text transform="translate(37.70,503.82) scale(0.927,1)" text-anchor="end" style='font-family:"Liberation Serif", serif;font-size:16.30px;stroke-width:0.35px;' >20</text>
<text transform="translate(37.70,476.09) scale(0.927,1)" text-anchor="end" style='font-family:"Liberation Serif", serif;font-size:16.30px;stroke-width:0.35px;' >30</text>
<text transform="translate(37.70,448.35) scale(0.927,1)" text-anchor="end" style='font-family:"Liberation Serif", serif;font-size:16.30px;stroke-width:0.35px;' >40</text>
<text transform="translate(37.70,420.61) scale(0.927,1)" text-anchor="end" style='font-family:"Liberation Serif", serif;font-size:16.30px;stroke-width:0.35px;' >50</text>
<text transform="translate(37.70,392.88) scale(0.927,1)" text-anchor="end" style='font-family:"Liberation Serif", serif;font-size:16.30px;stroke-width:0.35px;' >60</text>
<text transform="translate(37.70,365.14) scale(0.927,1)" text-anchor="end" style='font-family:"Liberation Serif", serif;font-size:16.30px;stroke-width:0.35px;' >70</text>
<text transform="translate(37.70,337.40) scale(0.927,1)" text-anchor="end" style='font-family:"Liberation Serif", serif;font-size:16.30px;stroke-width:0.35px;' >80</text>
<text transform="translate(41.90,570.60) scale(0.880,1)" text-anchor="middle" style='font-family:"Liberation Sans", sans-serif;font-size:15.80px;stroke-width:0.45px;' >0.000</text>
<text transform="translate(111.02,570.60) scale(0.880,1)" text-anchor="middle" style='font-family:"Liberation Sans", sans-serif;font-size:15.80px;stroke-width:0.45px;' >0.004</text>
<text transform="translate(180.15,570.60) scale(0.880,1)" text-anchor="middle" style='font-family:"Liberation Sans", sans-serif;font-size:15.80px;stroke-width:0.45px;' >0.008</text>
<text transform="translate(249.28,570.60) scale(0.880,1)" text-anchor="middle" style='font-family:"Liberation Sans", sans-serif;font-size:15.80px;stroke-width:0.45px;' >0.012</text>
<text transform="translate(318.40,570.60) scale(0.880,1)" text-anchor="middle" style='font-family:"Liberation Sans", sans-serif;font-size:15.80px;stroke-width:0.45px;' >0.016</text>
<rect x="250.50" y="338.80" width="61.00" height="73.60" fill="#fff" stroke="#202020" stroke-width="1.3"/>
<path d="M251.70,348.70H283.80" fill="none" stroke="#686868" stroke-width="1.80" stroke-linejoin="round"/>
<text transform="translate(286.40,353.85) scale(0.960,1)" text-anchor="start" style='font-family:"Liberation Serif", serif;font-size:14.90px;stroke-width:0.35px;' >42/s</text>
<path d="M251.70,366.80H283.80" fill="none" stroke="#f04444" stroke-width="1.80" stroke-linejoin="round" stroke-dasharray="6.6 5.95"/>
<text transform="translate(286.40,371.95) scale(0.960,1)" text-anchor="start" style='font-family:"Liberation Serif", serif;font-size:14.90px;stroke-width:0.35px;' >51/s</text>
<path d="M251.70,384.30H280.80" fill="none" stroke="#0000ff" stroke-width="1.80" stroke-linejoin="round" stroke-dasharray="7.9 2.7 2.5 2.7"/>
<text transform="translate(286.40,389.45) scale(0.960,1)" text-anchor="start" style='font-family:"Liberation Serif", serif;font-size:14.90px;stroke-width:0.35px;' >63/s</text>
<path d="M252.20,402.40H282.65" fill="none" stroke="#8000ff" stroke-width="2.10" stroke-linecap="round" stroke-dasharray="0.01 3.37"/>
<text transform="translate(286.40,407.55) scale(0.960,1)" text-anchor="start" style='font-family:"Liberation Serif", serif;font-size:14.90px;stroke-width:0.35px;' >75/s</text>
<text transform="translate(15.20,461.10) rotate(-90) scale(1.300,1)" style='font-family:&quot;Liberation Serif&quot;,serif;font-style:italic;font-size:14.40px;stroke-width:0.10px'>&#963;</text>
<text transform="translate(15.30,448.00) rotate(-90) scale(1,1.020)" style='font-family:"Liberation Serif", serif;font-size:15.40px;stroke-width:0.10px'>(MPa)</text>
<text transform="translate(170.55,586.90) scale(1.170,1)" text-anchor="middle" style='font-family:"Liberation Serif", serif;font-size:16.90px;font-style:italic;stroke-width:0.15px;' >&#949;</text>
<text transform="translate(194.00,624.40) scale(0.990,1)" text-anchor="middle" style='font-family:"Liberation Serif", serif;font-size:23.80px;stroke-width:0.25px;' >(c) A-PRCAC-1.5</text>
<clipPath id="clipd"><rect x="387.30" y="333.40" width="281.90" height="222.30"/></clipPath>
<path d="M388.30,554.70 C388.43,553.72 388.68,550.57 389.10,548.80 C389.52,547.03 389.93,545.67 390.80,544.10 C391.67,542.53 393.37,540.72 394.30,539.40 C395.23,538.08 395.10,538.03 396.40,536.20 C397.70,534.37 400.20,531.12 402.10,528.40 C404.00,525.68 405.90,522.75 407.80,519.90 C409.70,517.05 411.60,514.15 413.50,511.30 C415.40,508.45 417.30,505.65 419.20,502.80 C421.10,499.95 423.00,497.30 424.90,494.20 C426.80,491.10 428.82,487.28 430.60,484.20 C432.38,481.12 434.27,478.07 435.60,475.70 C436.93,473.33 437.20,472.43 438.60,470.00 C440.00,467.57 442.12,463.75 444.00,461.10 C445.88,458.45 447.95,456.25 449.90,454.10 C451.85,451.95 453.77,450.35 455.70,448.20 C457.63,446.05 459.75,443.53 461.50,441.20 C463.25,438.87 464.63,436.72 466.20,434.20 C467.77,431.68 469.35,428.82 470.90,426.10 C472.45,423.38 473.95,420.33 475.50,417.90 C477.05,415.47 478.43,413.35 480.20,411.50 C481.97,409.65 484.15,407.88 486.10,406.80 C488.05,405.72 489.97,405.20 491.90,405.00 C493.83,404.80 496.02,405.13 497.70,405.60 C499.38,406.07 500.65,406.98 502.00,407.80 C503.35,408.62 504.18,409.07 505.80,410.50 C507.42,411.93 509.75,414.05 511.70,416.40 C513.65,418.75 515.55,421.08 517.50,424.60 C519.45,428.12 521.62,433.55 523.40,437.50 C525.18,441.45 526.60,444.32 528.20,448.30 C529.80,452.28 531.37,456.68 533.00,461.40 C534.63,466.12 536.35,471.22 538.00,476.60 C539.65,481.98 541.47,488.02 542.90,493.70 C544.33,499.38 545.38,504.82 546.60,510.70 C547.82,516.58 548.98,522.38 550.20,529.00 C551.42,535.62 553.28,546.83 553.90,550.40" fill="none" stroke="#686868" stroke-width="1.80" stroke-linejoin="round" clip-path="url(#clipd)"/>
<path d="M388.30,554.70 C388.53,553.32 388.88,548.55 389.70,546.40 C390.52,544.25 391.85,543.17 393.20,541.80 C394.55,540.43 396.25,539.38 397.80,538.20 C399.35,537.02 400.73,535.87 402.50,534.70 C404.27,533.53 406.25,532.37 408.40,531.20 C410.55,530.03 413.27,528.77 415.40,527.70 C417.53,526.63 419.27,525.97 421.20,524.80 C423.13,523.63 424.85,522.55 427.00,520.70 C429.15,518.85 431.95,516.03 434.10,513.70 C436.25,511.37 437.97,509.23 439.90,506.70 C441.83,504.17 443.75,501.22 445.70,498.50 C447.65,495.78 449.65,493.50 451.60,490.40 C453.55,487.30 455.58,483.05 457.40,479.90 C459.22,476.75 460.98,473.98 462.50,471.50 C464.02,469.02 465.50,466.73 466.50,465.00 C467.50,463.27 467.38,463.30 468.50,461.10 C469.62,458.90 471.63,454.92 473.20,451.80 C474.77,448.68 476.33,445.52 477.90,442.40 C479.47,439.28 481.05,436.40 482.60,433.10 C484.15,429.80 485.65,425.72 487.20,422.60 C488.75,419.48 490.33,417.03 491.90,414.40 C493.47,411.77 495.05,409.05 496.60,406.80 C498.15,404.55 499.67,402.62 501.20,400.90 C502.73,399.18 504.17,397.38 505.80,396.50 C507.43,395.62 509.05,395.40 511.00,395.60 C512.95,395.80 515.43,396.57 517.50,397.70 C519.57,398.83 521.65,400.65 523.40,402.40 C525.15,404.15 526.83,406.25 528.00,408.20 C529.17,410.15 529.62,411.77 530.40,414.10 C531.18,416.43 531.93,419.10 532.70,422.20 C533.47,425.30 534.32,429.38 535.00,432.70 C535.68,436.02 536.37,438.85 536.80,442.10 C537.23,445.35 537.35,447.67 537.60,452.20 C537.85,456.73 538.18,466.45 538.30,469.30" fill="none" stroke="#f04444" stroke-width="1.80" stroke-linejoin="round" stroke-dasharray="7.1 6.0" clip-path="url(#clipd)"/>
<path d="M388.30,554.70 C388.43,552.93 388.48,546.65 389.10,544.10 C389.72,541.55 390.73,540.77 392.00,539.40 C393.27,538.03 394.95,537.07 396.70,535.90 C398.45,534.73 400.53,533.58 402.50,532.40 C404.47,531.22 406.48,530.30 408.50,528.80 C410.52,527.30 412.63,525.30 414.60,523.40 C416.57,521.50 418.52,519.53 420.30,517.40 C422.08,515.27 423.68,512.92 425.30,510.60 C426.92,508.28 428.47,505.82 430.00,503.50 C431.53,501.18 433.10,498.97 434.50,496.70 C435.90,494.43 436.92,492.52 438.40,489.90 C439.88,487.28 441.55,484.07 443.40,481.00 C445.25,477.93 447.50,474.72 449.50,471.50 C451.50,468.28 453.58,464.98 455.40,461.70 C457.22,458.42 458.80,455.02 460.40,451.80 C462.00,448.58 463.45,445.52 465.00,442.40 C466.55,439.28 468.13,436.22 469.70,433.10 C471.27,429.98 472.83,426.63 474.40,423.70 C475.97,420.77 477.55,418.03 479.10,415.50 C480.65,412.97 482.15,410.83 483.70,408.50 C485.25,406.17 486.83,403.63 488.40,401.50 C489.97,399.37 491.55,397.45 493.10,395.70 C494.65,393.95 496.15,392.37 497.70,391.00 C499.25,389.63 500.83,388.57 502.40,387.50 C503.97,386.43 505.75,385.28 507.10,384.60 C508.45,383.92 509.35,383.65 510.50,383.40 C511.65,383.15 512.63,382.95 514.00,383.10 C515.37,383.25 517.13,383.42 518.70,384.30 C520.27,385.18 521.85,386.75 523.40,388.40 C524.95,390.05 526.65,392.27 528.00,394.20 C529.35,396.13 530.33,397.47 531.50,400.00 C532.67,402.53 533.83,406.28 535.00,409.40 C536.17,412.52 537.52,415.58 538.50,418.70 C539.48,421.82 540.12,424.98 540.90,428.10 C541.68,431.22 542.43,434.28 543.20,437.40 C543.97,440.52 544.72,443.48 545.50,446.80 C546.28,450.12 547.12,453.15 547.90,457.30 C548.68,461.45 549.30,466.87 550.20,471.70 C551.10,476.53 552.48,482.03 553.30,486.30 C554.12,490.57 554.63,493.63 555.10,497.30 C555.57,500.97 555.93,506.47 556.10,508.30" fill="none" stroke="#0000ff" stroke-width="1.80" stroke-linejoin="round" stroke-dasharray="8.5 2.8 2.4 2.7" stroke-dashoffset="13.40" clip-path="url(#clipd)"/>
<path d="M388.30,554.70 C388.43,553.32 388.48,548.95 389.10,546.40 C389.72,543.85 390.73,541.53 392.00,539.40 C393.27,537.27 394.95,535.93 396.70,533.60 C398.45,531.27 400.55,528.13 402.50,525.40 C404.45,522.67 406.45,520.12 408.40,517.20 C410.35,514.28 412.27,511.02 414.20,507.90 C416.13,504.78 418.05,501.62 420.00,498.50 C421.95,495.38 423.95,492.50 425.90,489.20 C427.85,485.90 429.85,482.22 431.70,478.70 C433.55,475.18 435.33,471.62 437.00,468.10 C438.67,464.58 440.13,461.10 441.70,457.60 C443.27,454.10 444.85,450.42 446.40,447.10 C447.95,443.78 449.45,440.82 451.00,437.70 C452.55,434.58 454.13,431.50 455.70,428.40 C457.27,425.30 458.85,422.22 460.40,419.10 C461.95,415.98 463.45,412.63 465.00,409.70 C466.55,406.77 467.95,404.03 469.70,401.50 C471.45,398.97 473.55,396.63 475.50,394.50 C477.45,392.37 479.45,390.45 481.40,388.70 C483.35,386.95 485.25,385.37 487.20,384.00 C489.15,382.63 491.15,381.47 493.10,380.50 C495.05,379.53 496.78,378.78 498.90,378.20 C501.02,377.62 503.67,377.15 505.80,377.00 C507.93,376.85 509.75,377.07 511.70,377.30 C513.65,377.53 515.55,377.92 517.50,378.40 C519.45,378.88 521.45,379.42 523.40,380.20 C525.35,380.98 527.27,382.03 529.20,383.10 C531.13,384.17 533.05,385.23 535.00,386.60 C536.95,387.97 538.95,389.45 540.90,391.30 C542.85,393.15 544.75,395.27 546.70,397.70 C548.65,400.13 550.65,402.98 552.60,405.90 C554.55,408.82 556.47,411.90 558.40,415.20 C560.33,418.50 562.25,421.90 564.20,425.70 C566.15,429.50 568.12,433.38 570.10,438.00 C572.08,442.62 574.28,448.80 576.10,453.40 C577.92,458.00 579.37,461.33 581.00,465.60 C582.63,469.87 584.28,474.53 585.90,479.00 C587.52,483.47 589.08,487.92 590.70,492.40 C592.32,496.88 593.97,501.22 595.60,505.90 C597.23,510.58 598.87,515.63 600.50,520.50 C602.13,525.37 603.98,531.23 605.40,535.10 C606.82,538.97 607.78,541.05 609.00,543.70 C610.22,546.35 612.08,549.78 612.70,551.00" fill="none" stroke="#8000ff" stroke-width="2.10" stroke-linecap="round" stroke-dasharray="0.01 3.4" clip-path="url(#clipd)"/>
<path d="M388.30,333.70V555.40" stroke="#151515" stroke-width="1.4" fill="none"/>
<path d="M387.60,334.40H668.90" stroke="#1c1c1c" stroke-width="1.4" fill="none"/>
<path d="M668.20,333.70V555.40" stroke="#444" stroke-width="1.4" fill="none"/>
<path d="M387.60,554.70H668.90" stroke="#333" stroke-width="1.4" fill="none"/>
<path d="M388.30,554.70h3.5 M388.30,527.16h3.5 M388.30,499.62h3.5 M388.30,472.09h3.5 M388.30,444.55h3.5 M388.30,417.01h3.5 M388.30,389.48h3.5 M388.30,361.94h3.5 M388.30,334.40h3.5 " stroke="#151515" stroke-width="1.3" fill="none"/>
<path d="M388.30,554.70v-3.5 M458.28,554.70v-3.5 M528.25,554.70v-3.5 M598.23,554.70v-3.5 M668.20,554.70v-3.5 " stroke="#333" stroke-width="1.3" fill="none"/>
<text transform="translate(385.40,559.70) scale(0.885,1)" text-anchor="end" style='font-family:"Liberation Sans", sans-serif;font-size:16.30px;stroke-width:0.45px;' >0</text>
<text transform="translate(385.40,532.16) scale(0.885,1)" text-anchor="end" style='font-family:"Liberation Sans", sans-serif;font-size:16.30px;stroke-width:0.45px;' >10</text>
<text transform="translate(385.40,504.62) scale(0.885,1)" text-anchor="end" style='font-family:"Liberation Sans", sans-serif;font-size:16.30px;stroke-width:0.45px;' >20</text>
<text transform="translate(385.40,477.09) scale(0.885,1)" text-anchor="end" style='font-family:"Liberation Sans", sans-serif;font-size:16.30px;stroke-width:0.45px;' >30</text>
<text transform="translate(385.40,449.55) scale(0.885,1)" text-anchor="end" style='font-family:"Liberation Sans", sans-serif;font-size:16.30px;stroke-width:0.45px;' >40</text>
<text transform="translate(385.40,422.01) scale(0.885,1)" text-anchor="end" style='font-family:"Liberation Sans", sans-serif;font-size:16.30px;stroke-width:0.45px;' >50</text>
<text transform="translate(385.40,394.48) scale(0.885,1)" text-anchor="end" style='font-family:"Liberation Sans", sans-serif;font-size:16.30px;stroke-width:0.45px;' >60</text>
<text transform="translate(385.40,366.94) scale(0.885,1)" text-anchor="end" style='font-family:"Liberation Sans", sans-serif;font-size:16.30px;stroke-width:0.45px;' >70</text>
<text transform="translate(385.40,339.40) scale(0.885,1)" text-anchor="end" style='font-family:"Liberation Sans", sans-serif;font-size:16.30px;stroke-width:0.45px;' >80</text>
<text transform="translate(388.30,571.00) scale(0.930,1)" text-anchor="middle" style='font-family:"Liberation Serif", serif;font-size:16.40px;stroke-width:0.35px;' >0.000</text>
<text transform="translate(458.28,571.00) scale(0.930,1)" text-anchor="middle" style='font-family:"Liberation Serif", serif;font-size:16.40px;stroke-width:0.35px;' >0.004</text>
<text transform="translate(528.25,571.00) scale(0.930,1)" text-anchor="middle" style='font-family:"Liberation Serif", serif;font-size:16.40px;stroke-width:0.35px;' >0.008</text>
<text transform="translate(598.23,571.00) scale(0.930,1)" text-anchor="middle" style='font-family:"Liberation Serif", serif;font-size:16.40px;stroke-width:0.35px;' >0.012</text>
<text transform="translate(668.20,571.00) scale(0.930,1)" text-anchor="middle" style='font-family:"Liberation Serif", serif;font-size:16.40px;stroke-width:0.35px;' >0.016</text>
<rect x="598.90" y="341.10" width="61.90" height="73.30" fill="#fff" stroke="#808080" stroke-width="1.3"/>
<path d="M599.70,350.70H632.20" fill="none" stroke="#686868" stroke-width="1.80" stroke-linejoin="round"/>
<text transform="translate(635.40,355.10) scale(0.944,1)" text-anchor="start" style='font-family:"Liberation Sans", sans-serif;font-size:14.30px;stroke-width:0.45px;' >41/s</text>
<path d="M599.70,368.70H632.20" fill="none" stroke="#f04444" stroke-width="1.80" stroke-linejoin="round" stroke-dasharray="7.1 6.0"/>
<text transform="translate(635.40,373.10) scale(0.944,1)" text-anchor="start" style='font-family:"Liberation Sans", sans-serif;font-size:14.30px;stroke-width:0.45px;' >50/s</text>
<path d="M599.70,386.50H630.00" fill="none" stroke="#0000ff" stroke-width="1.80" stroke-linejoin="round" stroke-dasharray="8.5 2.8 2.4 2.7"/>
<text transform="translate(635.40,390.90) scale(0.944,1)" text-anchor="start" style='font-family:"Liberation Sans", sans-serif;font-size:14.30px;stroke-width:0.45px;' >63/s</text>
<path d="M600.70,404.10H631.35" fill="none" stroke="#8000ff" stroke-width="2.10" stroke-linecap="round" stroke-dasharray="0.01 3.4"/>
<text transform="translate(635.40,408.50) scale(0.944,1)" text-anchor="start" style='font-family:"Liberation Sans", sans-serif;font-size:14.30px;stroke-width:0.45px;' >76/s</text>
<text transform="translate(355.90,465.40) rotate(-90) scale(1.450,1)" style='font-family:&quot;Liberation Serif&quot;,serif;font-style:italic;font-size:14.60px;stroke-width:0.10px'>&#963;</text>
<text transform="translate(355.90,452.30) rotate(-90) scale(1,0.976)" style='font-family:"Liberation Serif", serif;font-size:15.60px;stroke-width:0.10px'>(MPa)</text>
<text transform="translate(520.60,587.85) scale(1.140,1)" text-anchor="middle" style='font-family:"Liberation Serif", serif;font-size:17.50px;font-style:italic;stroke-width:0.15px;' >&#949;</text>
<text transform="translate(537.10,624.70) scale(0.990,1)" text-anchor="middle" style='font-family:"Liberation Serif", serif;font-size:23.80px;stroke-width:0.25px;' >(d) B-PRCAC-5.0</text>
<clipPath id="clipe"><rect x="211.30" y="682.10" width="297.80" height="225.30"/></clipPath>
<path d="M212.40,906.00 C212.48,904.30 212.57,898.48 212.90,895.80 C213.23,893.12 213.67,891.65 214.40,889.90 C215.13,888.15 216.03,886.85 217.30,885.30 C218.57,883.75 220.23,882.07 222.00,880.60 C223.77,879.13 225.95,877.87 227.90,876.50 C229.85,875.13 232.12,873.72 233.70,872.40 C235.28,871.08 236.10,870.07 237.40,868.60 C238.70,867.13 240.23,865.38 241.50,863.60 C242.77,861.82 243.62,860.20 245.00,857.90 C246.38,855.60 248.30,852.42 249.80,849.80 C251.30,847.18 252.62,844.85 254.00,842.20 C255.38,839.55 256.72,836.55 258.10,833.90 C259.48,831.25 260.80,828.83 262.30,826.30 C263.80,823.77 265.48,821.12 267.10,818.70 C268.72,816.28 270.62,813.65 272.00,811.80 C273.38,809.95 273.92,809.45 275.40,807.60 C276.88,805.75 278.77,803.30 280.90,800.70 C283.03,798.10 285.77,794.92 288.20,792.00 C290.63,789.08 293.07,786.12 295.50,783.20 C297.93,780.28 300.37,777.42 302.80,774.50 C305.23,771.58 307.92,768.13 310.10,765.70 C312.28,763.27 313.95,761.48 315.90,759.90 C317.85,758.32 319.85,757.07 321.80,756.20 C323.75,755.33 325.67,754.82 327.60,754.70 C329.53,754.58 331.62,754.82 333.40,755.50 C335.18,756.18 336.80,757.40 338.30,758.80 C339.80,760.20 341.05,761.87 342.40,763.90 C343.75,765.93 345.22,768.62 346.40,771.00 C347.58,773.38 348.65,775.82 349.50,778.20 C350.35,780.58 350.82,782.93 351.50,785.30 C352.18,787.67 352.98,789.95 353.60,792.40 C354.22,794.85 354.48,796.87 355.20,800.00 C355.92,803.13 356.98,806.53 357.90,811.20 C358.82,815.87 359.77,822.42 360.70,828.00 C361.63,833.58 362.75,839.12 363.50,844.70 C364.25,850.28 364.78,856.73 365.20,861.50 C365.62,866.27 365.87,871.33 366.00,873.30" fill="none" stroke="#686868" stroke-width="2.10" stroke-linejoin="round" clip-path="url(#clipe)"/>
<path d="M212.40,906.00 C212.63,904.88 213.17,901.20 213.80,899.30 C214.43,897.40 215.03,895.97 216.20,894.60 C217.37,893.23 219.05,892.47 220.80,891.10 C222.55,889.73 224.75,887.95 226.70,886.40 C228.65,884.85 230.55,883.35 232.50,881.80 C234.45,880.25 236.45,878.87 238.40,877.10 C240.35,875.33 242.45,873.35 244.20,871.20 C245.95,869.05 247.35,866.72 248.90,864.20 C250.45,861.68 251.95,859.02 253.50,856.10 C255.05,853.18 256.63,849.63 258.20,846.70 C259.77,843.77 261.33,841.22 262.90,838.50 C264.47,835.78 266.05,832.92 267.60,830.40 C269.15,827.88 270.45,826.33 272.20,823.40 C273.95,820.47 276.53,815.37 278.10,812.80 C279.67,810.23 280.17,810.25 281.60,808.00 C283.03,805.75 284.87,802.45 286.70,799.30 C288.53,796.15 290.65,792.27 292.60,789.10 C294.55,785.93 296.47,782.98 298.40,780.30 C300.33,777.62 302.25,775.68 304.20,773.00 C306.15,770.32 308.15,766.63 310.10,764.20 C312.05,761.77 314.12,760.33 315.90,758.40 C317.68,756.47 319.40,754.22 320.80,752.60 C322.20,750.98 323.08,749.82 324.30,748.70 C325.52,747.58 326.78,746.50 328.10,745.90 C329.42,745.30 330.67,744.98 332.20,745.10 C333.73,745.22 335.77,745.83 337.30,746.60 C338.83,747.37 340.05,748.33 341.40,749.70 C342.75,751.07 344.22,752.93 345.40,754.80 C346.58,756.67 347.48,758.70 348.50,760.90 C349.52,763.10 350.65,765.63 351.50,768.00 C352.35,770.37 353.00,772.73 353.60,775.10 C354.20,777.47 354.60,779.65 355.10,782.20 C355.60,784.75 356.20,787.68 356.60,790.40 C357.00,793.12 357.28,795.40 357.50,798.50 C357.72,801.60 357.82,805.95 357.90,809.00 C357.98,812.05 357.97,814.67 358.00,816.80 C358.03,818.93 358.08,820.97 358.10,821.80" fill="none" stroke="#f04444" stroke-width="2.10" stroke-linejoin="round" stroke-dasharray="7.3 6.2" clip-path="url(#clipe)"/>
<path d="M212.40,906.00 C212.55,904.68 212.87,900.10 213.30,898.10 C213.73,896.10 213.93,895.37 215.00,894.00 C216.07,892.63 217.95,891.35 219.70,889.90 C221.45,888.45 223.55,886.85 225.50,885.30 C227.45,883.75 229.45,882.17 231.40,880.60 C233.35,879.03 235.27,877.47 237.20,875.90 C239.13,874.33 241.05,872.95 243.00,871.20 C244.95,869.45 246.95,867.92 248.90,865.40 C250.85,862.88 252.95,859.22 254.70,856.10 C256.45,852.98 258.03,849.63 259.40,846.70 C260.77,843.77 261.73,841.42 262.90,838.50 C264.07,835.58 265.23,832.30 266.40,829.20 C267.57,826.10 268.70,822.90 269.90,819.90 C271.10,816.90 272.33,814.10 273.60,811.20 C274.87,808.30 276.50,804.57 277.50,802.50 C278.50,800.43 278.55,801.28 279.60,798.80 C280.65,796.32 282.13,791.17 283.80,787.60 C285.47,784.03 287.65,780.57 289.60,777.40 C291.55,774.23 293.55,771.28 295.50,768.60 C297.45,765.92 299.35,763.48 301.30,761.30 C303.25,759.12 305.25,757.45 307.20,755.50 C309.15,753.55 311.07,751.43 313.00,749.60 C314.93,747.77 316.85,745.72 318.80,744.50 C320.75,743.28 322.80,742.75 324.70,742.30 C326.60,741.85 328.43,741.75 330.20,741.80 C331.97,741.85 333.62,742.22 335.30,742.60 C336.98,742.98 338.62,743.43 340.30,744.10 C341.98,744.77 343.87,745.58 345.40,746.60 C346.93,747.62 348.30,748.83 349.50,750.20 C350.70,751.57 351.67,753.20 352.60,754.80 C353.53,756.40 354.27,757.77 355.10,759.80 C355.93,761.83 356.83,764.62 357.60,767.00 C358.37,769.38 359.02,771.57 359.70,774.10 C360.38,776.63 361.12,779.48 361.70,782.20 C362.28,784.92 362.73,787.43 363.20,790.40 C363.67,793.37 364.08,796.53 364.50,800.00 C364.92,803.47 365.32,806.53 365.70,811.20 C366.08,815.87 366.47,822.42 366.80,828.00 C367.13,833.58 367.42,839.12 367.70,844.70 C367.98,850.28 368.30,855.90 368.50,861.50 C368.70,867.10 368.80,872.70 368.90,878.30 C369.00,883.90 369.05,890.77 369.10,895.10 C369.15,899.43 369.18,902.77 369.20,904.30" fill="none" stroke="#0000ff" stroke-width="2.10" stroke-linejoin="round" stroke-dasharray="8.6 3.1 2.5 3.1" stroke-dashoffset="5.50" clip-path="url(#clipe)"/>
<path d="M212.40,906.00 C212.55,904.48 212.87,899.38 213.30,896.90 C213.73,894.42 214.13,893.23 215.00,891.10 C215.87,888.97 217.33,886.43 218.50,884.10 C219.67,881.77 220.83,879.63 222.00,877.10 C223.17,874.57 224.33,871.63 225.50,868.90 C226.67,866.17 227.83,863.42 229.00,860.70 C230.17,857.98 231.33,855.32 232.50,852.60 C233.67,849.88 234.83,847.33 236.00,844.40 C237.17,841.47 238.33,838.12 239.50,835.00 C240.67,831.88 241.83,829.00 243.00,825.70 C244.17,822.40 245.45,818.32 246.50,815.20 C247.55,812.08 248.20,809.90 249.30,807.00 C250.40,804.10 251.73,801.03 253.10,797.80 C254.47,794.57 256.03,790.77 257.50,787.60 C258.97,784.43 260.43,781.72 261.90,778.80 C263.37,775.88 264.83,772.77 266.30,770.10 C267.77,767.43 269.25,765.00 270.70,762.80 C272.15,760.60 273.55,758.85 275.00,756.90 C276.45,754.95 277.93,752.80 279.40,751.10 C280.87,749.40 281.85,748.28 283.80,746.70 C285.75,745.12 288.67,743.05 291.10,741.60 C293.53,740.15 295.97,739.10 298.40,738.00 C300.83,736.90 303.27,736.10 305.70,735.00 C308.13,733.90 310.57,732.62 313.00,731.40 C315.43,730.18 318.12,728.80 320.30,727.70 C322.48,726.60 324.37,725.52 326.10,724.80 C327.83,724.08 329.17,723.50 330.70,723.40 C332.23,723.30 333.87,723.80 335.30,724.20 C336.73,724.60 338.12,725.12 339.30,725.80 C340.48,726.48 341.38,727.37 342.40,728.30 C343.42,729.23 344.38,730.30 345.40,731.40 C346.42,732.50 347.65,733.72 348.50,734.90 C349.35,736.08 349.73,737.22 350.50,738.50 C351.27,739.78 352.33,741.25 353.10,742.60 C353.87,743.95 354.43,745.25 355.10,746.60 C355.77,747.95 356.42,749.17 357.10,750.70 C357.78,752.23 358.52,753.93 359.20,755.80 C359.88,757.67 360.53,759.87 361.20,761.90 C361.87,763.93 362.60,765.97 363.20,768.00 C363.80,770.03 364.20,772.07 364.80,774.10 C365.40,776.13 366.22,778.17 366.80,780.20 C367.38,782.23 367.80,784.27 368.30,786.30 C368.80,788.33 369.28,790.37 369.80,792.40 C370.32,794.43 370.97,796.47 371.40,798.50 C371.83,800.53 372.10,802.48 372.40,804.60 C372.70,806.72 372.82,807.30 373.20,811.20 C373.58,815.10 374.23,822.42 374.70,828.00 C375.17,833.58 375.60,839.12 376.00,844.70 C376.40,850.28 376.77,855.90 377.10,861.50 C377.43,867.10 377.70,872.70 378.00,878.30 C378.30,883.90 378.65,891.08 378.90,895.10 C379.15,899.12 379.40,901.18 379.50,902.40" fill="none" stroke="#8000ff" stroke-width="2.40" stroke-linecap="round" stroke-dasharray="0.01 4.37" clip-path="url(#clipe)"/>
<path d="M212.30,682.40V907.10" stroke="#151515" stroke-width="1.4" fill="none"/>
<path d="M211.60,683.10H508.80" stroke="#858585" stroke-width="1.4" fill="none"/>
<path d="M508.10,682.40V907.10" stroke="#5a5a5a" stroke-width="1.4" fill="none"/>
<path d="M211.60,906.40H508.80" stroke="#222" stroke-width="1.4" fill="none"/>
<path d="M212.30,906.40h3.5 M212.30,878.49h3.5 M212.30,850.58h3.5 M212.30,822.66h3.5 M212.30,794.75h3.5 M212.30,766.84h3.5 M212.30,738.92h3.5 M212.30,711.01h3.5 M212.30,683.10h3.5 " stroke="#151515" stroke-width="1.3" fill="none"/>
<path d="M212.30,906.40v-3.5 M286.25,906.40v-3.5 M360.20,906.40v-3.5 M434.15,906.40v-3.5 M508.10,906.40v-3.5 " stroke="#222" stroke-width="1.3" fill="none"/>
<text transform="translate(208.80,911.60) scale(0.870,1)" text-anchor="end" style='font-family:"Liberation Sans", sans-serif;font-size:17.00px;stroke-width:0.45px;' >0</text>
<text transform="translate(208.80,883.69) scale(0.870,1)" text-anchor="end" style='font-family:"Liberation Sans", sans-serif;font-size:17.00px;stroke-width:0.45px;' >10</text>
<text transform="translate(208.80,855.78) scale(0.870,1)" text-anchor="end" style='font-family:"Liberation Sans", sans-serif;font-size:17.00px;stroke-width:0.45px;' >20</text>
<text transform="translate(208.80,827.86) scale(0.870,1)" text-anchor="end" style='font-family:"Liberation Sans", sans-serif;font-size:17.00px;stroke-width:0.45px;' >30</text>
<text transform="translate(208.80,799.95) scale(0.870,1)" text-anchor="end" style='font-family:"Liberation Sans", sans-serif;font-size:17.00px;stroke-width:0.45px;' >40</text>
<text transform="translate(208.80,772.04) scale(0.870,1)" text-anchor="end" style='font-family:"Liberation Sans", sans-serif;font-size:17.00px;stroke-width:0.45px;' >50</text>
<text transform="translate(208.80,744.12) scale(0.870,1)" text-anchor="end" style='font-family:"Liberation Sans", sans-serif;font-size:17.00px;stroke-width:0.45px;' >60</text>
<text transform="translate(208.80,716.21) scale(0.870,1)" text-anchor="end" style='font-family:"Liberation Sans", sans-serif;font-size:17.00px;stroke-width:0.45px;' >70</text>
<text transform="translate(208.80,688.30) scale(0.870,1)" text-anchor="end" style='font-family:"Liberation Sans", sans-serif;font-size:17.00px;stroke-width:0.45px;' >80</text>
<text transform="translate(212.30,922.90) scale(0.950,1)" text-anchor="middle" style='font-family:"Liberation Serif", serif;font-size:16.70px;stroke-width:0.35px;' >0.000</text>
<text transform="translate(286.25,922.90) scale(0.950,1)" text-anchor="middle" style='font-family:"Liberation Serif", serif;font-size:16.70px;stroke-width:0.35px;' >0.004</text>
<text transform="translate(360.20,922.90) scale(0.950,1)" text-anchor="middle" style='font-family:"Liberation Serif", serif;font-size:16.70px;stroke-width:0.35px;' >0.008</text>
<text transform="translate(434.15,922.90) scale(0.950,1)" text-anchor="middle" style='font-family:"Liberation Serif", serif;font-size:16.70px;stroke-width:0.35px;' >0.012</text>
<text transform="translate(508.10,922.90) scale(0.950,1)" text-anchor="middle" style='font-family:"Liberation Serif", serif;font-size:16.70px;stroke-width:0.35px;' >0.016</text>
<rect x="429.50" y="689.20" width="70.00" height="79.80" fill="#fff" stroke="#707070" stroke-width="1.3"/>
<path d="M431.20,700.00H467.30" fill="none" stroke="#686868" stroke-width="2.10" stroke-linejoin="round"/>
<text transform="translate(470.50,705.35) scale(0.970,1)" text-anchor="start" style='font-family:"Liberation Sans", sans-serif;font-size:15.60px;stroke-width:0.45px;' >41/s</text>
<path d="M431.20,719.40H467.30" fill="none" stroke="#f04444" stroke-width="2.10" stroke-linejoin="round" stroke-dasharray="7.3 6.2"/>
<text transform="translate(470.50,724.75) scale(0.970,1)" text-anchor="start" style='font-family:"Liberation Sans", sans-serif;font-size:15.60px;stroke-width:0.45px;' >56/s</text>
<path d="M431.20,739.00H467.30" fill="none" stroke="#0000ff" stroke-width="2.10" stroke-linejoin="round" stroke-dasharray="8.6 3.1 2.5 3.1"/>
<text transform="translate(470.50,744.35) scale(0.970,1)" text-anchor="start" style='font-family:"Liberation Sans", sans-serif;font-size:15.60px;stroke-width:0.45px;' >67/s</text>
<path d="M431.80,758.00H466.80" fill="none" stroke="#8000ff" stroke-width="2.40" stroke-linecap="round" stroke-dasharray="0.01 4.37"/>
<text transform="translate(470.50,763.35) scale(0.970,1)" text-anchor="start" style='font-family:"Liberation Sans", sans-serif;font-size:15.60px;stroke-width:0.45px;' >78/s</text>
<text transform="translate(185.00,821.90) rotate(-90) scale(1.380,1)" style='font-family:&quot;Liberation Serif&quot;,serif;font-style:italic;font-size:17.90px;stroke-width:0.10px'>&#963;</text>
<text transform="translate(184.70,806.60) rotate(-90) scale(1,1.070)" style='font-family:"Liberation Sans", sans-serif;font-size:16.80px;stroke-width:0.10px'>(MPa)</text>
<text transform="translate(355.05,942.80) scale(1.200,1)" text-anchor="middle" style='font-family:"Liberation Serif", serif;font-size:18.75px;font-style:italic;stroke-width:0.15px;' >&#949;</text>
<text transform="translate(358.75,978.00) scale(0.990,1)" text-anchor="middle" style='font-family:"Liberation Serif", serif;font-size:23.80px;stroke-width:0.25px;' >(e) C-PRCAC-12.0</text></svg>
</body></html>
